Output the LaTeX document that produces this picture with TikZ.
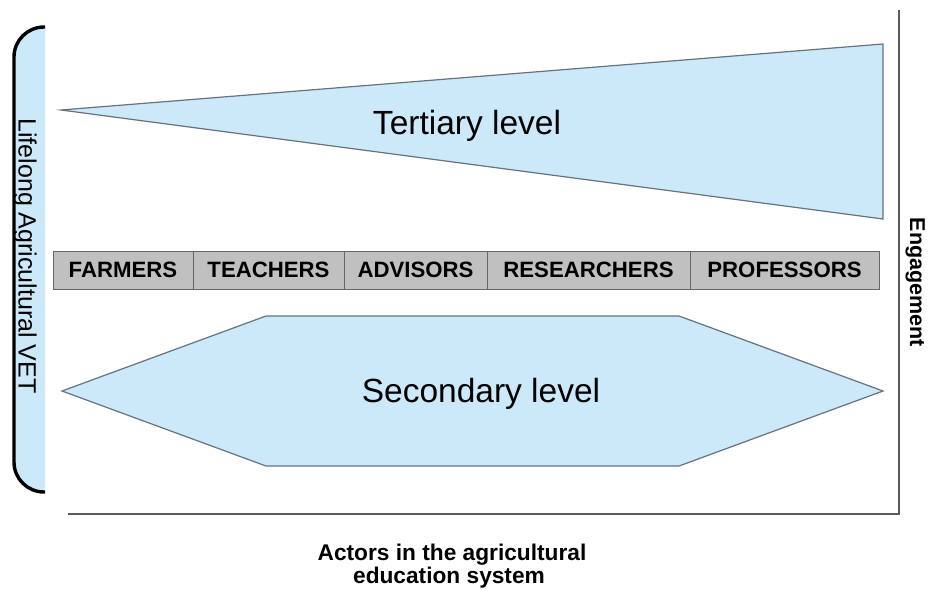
\documentclass[tikz,border=0pt]{standalone}
\usepackage{fontspec}
\setmainfont{Liberation Sans}
\definecolor{lb}{HTML}{CCE9FA}
\definecolor{shapeborder}{HTML}{667280}
\definecolor{cellfill}{HTML}{C0C0C0}
\definecolor{cellborder}{HTML}{666666}
\definecolor{axisgray}{HTML}{5A5A5A}
\begin{document}
\begin{tikzpicture}[x=1pt,y=-1pt,
  levelshape/.style={fill=lb,draw=shapeborder,line width=1.2pt,line join=miter},
  cellbox/.style={draw=cellborder,fill=cellfill,line width=1pt,inner sep=0pt,
     minimum height=38pt,text height=15.8pt,text depth=0pt,
     font=\fontsize{22.2}{25}\selectfont\bfseries},
  bigtext/.style={font=\fontsize{33.5}{40}\selectfont,inner sep=0pt,anchor=base},
  sidetext/.style={inner sep=0pt,anchor=base,rotate=-90},
  axisline/.style={draw=axisgray,line width=1.2pt}]
\useasboundingbox (0,0) rectangle (931,592);
\fill[white] (0,0) rectangle (931,592);

% axes
\coordinate (axtop) at (899,10);
\coordinate (axcorner) at (899,514);
\coordinate (axleft) at (68,514);
\draw[axisline] (axtop) -- (axcorner) -- (axleft);

% left bracket
\coordinate (brA) at (45,27);
\coordinate (brB) at (14,27);
\coordinate (brC) at (14,492);
\coordinate (brD) at (45,492);
\fill[lb,rounded corners=30pt] (brA) -- (brB) -- (brC) -- (brD);
\draw[black,line width=3.4pt,rounded corners=30pt] (brA) -- (brB) -- (brC) -- (brD);
\node[sidetext,font=\fontsize{25}{30}\selectfont] (lifelong) at (18.5,256) {Lifelong Agricultural VET};

% tertiary level
\coordinate (t1) at (61,110);
\coordinate (t2) at (883,44);
\coordinate (t3) at (883,219);
\draw[levelshape] (t1) -- (t2) -- (t3) -- cycle;
\node[bigtext] (tertiary) at (467,134) {Tertiary level};

% actors row
\node[cellbox,minimum width=140pt] (farmers) at (123,270) {FARMERS};
\node[cellbox,minimum width=151pt] (teachers) at (268.5,270) {TEACHERS};
\node[cellbox,minimum width=143pt] (advisors) at (415.5,270) {ADVISORS};
\node[cellbox,minimum width=203pt] (researchers) at (588.5,270) {RESEARCHERS};
\node[cellbox,minimum width=189pt] (professors) at (784.5,270) {PROFESSORS};

% secondary level
\coordinate (s1) at (62,391);
\coordinate (s2) at (266,316);
\coordinate (s3) at (679,316);
\coordinate (s4) at (883,391);
\coordinate (s5) at (679,466);
\coordinate (s6) at (266,466);
\draw[levelshape] (s1) -- (s2) -- (s3) -- (s4) -- (s5) -- (s6) -- cycle;
\node[bigtext] (secondary) at (481,402) {Secondary level};

% axis labels
\node[sidetext,font=\fontsize{21.5}{24}\selectfont\bfseries] (engagement) at (910,282.5) {Engagement};
\node[inner sep=0pt,anchor=base,font=\fontsize{22.7}{25}\selectfont\bfseries] (actors1) at (452,560) {Actors in the agricultural};
\node[inner sep=0pt,anchor=base,font=\fontsize{22.7}{25}\selectfont\bfseries] (actors2) at (449,583) {education system};
\end{tikzpicture}
\end{document}
